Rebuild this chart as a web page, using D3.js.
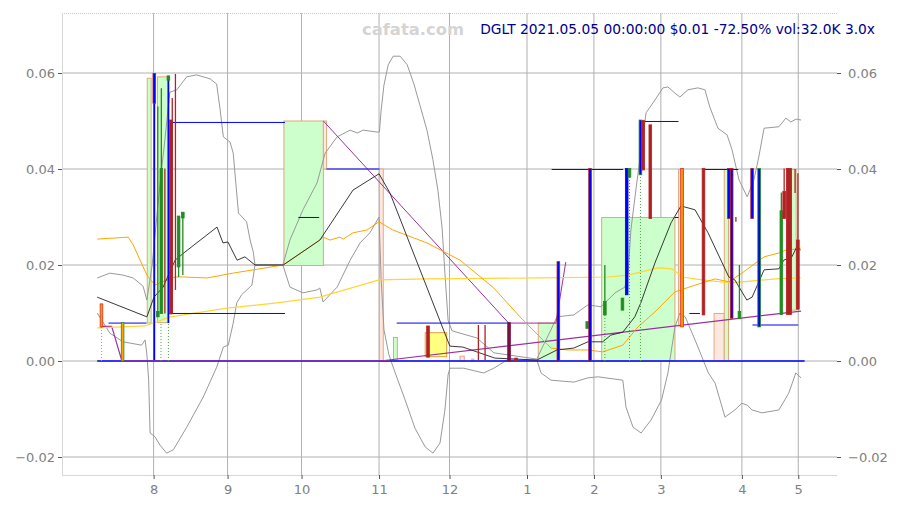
<!DOCTYPE html>
<html><head><meta charset="utf-8">
<script src="https://cdn.jsdelivr.net/npm/d3@7"></script>
<style>
body{margin:0;background:#fff;}
svg{display:block;font-family:"DejaVu Sans",sans-serif;}
</style></head>
<body><svg id="c" width="898" height="509"></svg>
<script>
// ---------- data (x = trading-session index, y = price in $) ----------
const xTickVals = [16,37,58,80,100,122,141,160,183,199];
const xTickLabels = ["8","9","10","11","12","1","2","3","4","5"];
const yTickVals = [-0.02,0,0.02,0.04,0.06];
const titleText = "DGLT 2021.05.05 00:00:00 $0.01 -72.50% vol:32.0K 3.0x";
const watermark = "cafata.com";

const priceLine = [[0,0.0133],[14.1,0.0092],[16.1,0.0133],[18.7,0.0154],[22.1,0.0210],[24.9,0.0227],[34.0,0.0279],[35.7,0.0246],[37.1,0.0248],[39.7,0.0210],[41.9,0.0217],[44.8,0.0200],[52.8,0.0200],[63.2,0.0252],[72.6,0.0356],[80.0,0.0390],[83.1,0.0350],[100.1,0.0031],[103.8,0.0029],[112.9,0.0006],[124.8,0.0002],[130.5,0.0023],[135.3,0.0027],[139.3,0.0040],[143.5,0.0040],[145.8,0.0054],[149.2,0.0060],[152.6,0.0092],[154.3,0.0121],[158.3,0.0204],[162.9,0.0288],[165.7,0.0323],[169.7,0.0315],[173.4,0.0267],[179.3,0.0175],[181.0,0.0169],[184.4,0.0127],[185.9,0.0133],[189.3,0.0190],[193.5,0.0192],[194.9,0.0210],[197.2,0.0217],[198.6,0.0238],[199.7,0.0231]];

const maFast = [[0,0.0254],[8.8,0.0258],[10.2,0.0242],[14.1,0.0179],[16.4,0.0158],[17.8,0.0163],[22.1,0.0175],[24.4,0.0175],[31.2,0.0173],[38.5,0.0183],[52.8,0.0200],[63.2,0.0252],[64.1,0.0258],[66.1,0.0252],[68.9,0.0258],[69.8,0.0254],[72.6,0.0267],[76.6,0.0273],[80.0,0.0290],[83.9,0.0273],[93.6,0.0246],[103.0,0.0210],[112.6,0.0152],[120.0,0.0092],[128.8,0.0027],[133.6,0.0023],[139.3,0.0023],[143.5,0.0019],[149.2,0.0033],[153.5,0.0071],[158.3,0.0102],[164.0,0.0144],[169.7,0.0158],[175.4,0.0171],[179.3,0.0165],[183.0,0.0183],[189.3,0.0217],[193.5,0.0225],[195.5,0.0231],[198.3,0.0233],[199.7,0.0235]];

const maSlow = [[0,0.0069],[13.6,0.0073],[20.7,0.0092],[36.8,0.0110],[51.0,0.0121],[63.2,0.0133],[80.0,0.0169],[93.6,0.0171],[126.0,0.0173],[145.0,0.0175],[150.7,0.0179],[159.2,0.0194],[163.2,0.0192],[166.0,0.0175],[171.7,0.0169],[179.3,0.0163],[183.0,0.0165],[192.7,0.0171],[199.7,0.0173]];

const bandUpper = [[0,0.0173],[3.6,0.0183],[7.3,0.0179],[10.2,0.0173],[13.0,0.0156],[14.1,0.0127],[15.6,0.0200],[17.0,0.0308],[18.1,0.0388],[19.2,0.0460],[20.6,0.0560],[22.6,0.0565],[25.4,0.0592],[28.2,0.0596],[32.0,0.0588],[33.9,0.0577],[34.9,0.0523],[35.8,0.0467],[37.7,0.0456],[38.6,0.0433],[40.1,0.0308],[42.4,0.0290],[43.4,0.0252],[44.3,0.0227],[44.8,0.0200],[52.7,0.0200],[54.7,0.0252],[58.4,0.0315],[62.4,0.0371],[64.7,0.0433],[68.1,0.0467],[71.8,0.0481],[73.8,0.0475],[75.5,0.0481],[79.4,0.0477],[80.1,0.0477],[80.6,0.0523],[81.4,0.0575],[82.6,0.0617],[84.0,0.0635],[86.0,0.0635],[88.0,0.0617],[89.9,0.0577],[91.6,0.0533],[93.6,0.0481],[95.3,0.0419],[96.7,0.0356],[97.9,0.0277],[98.7,0.0183],[99.6,0.0085],[100.7,0.0063],[103.0,0.0058],[107.8,0.0048],[112.6,0.0017],[124.8,0.0004],[126.0,0.0023],[128.8,0.0065],[130.5,0.0092],[135.3,0.0096],[139.3,0.0117],[143.0,0.0113],[147.0,0.0142],[149.8,0.0154],[150.7,0.0183],[151.5,0.0273],[152.9,0.0356],[154.4,0.0440],[155.8,0.0517],[157.8,0.0538],[160.6,0.0569],[162.0,0.0571],[164.0,0.0558],[165.4,0.0550],[167.7,0.0565],[170.5,0.0569],[172.5,0.0565],[173.9,0.0529],[176.2,0.0485],[178.8,0.0471],[180.2,0.0440],[182.2,0.0377],[184.5,0.0342],[186.4,0.0377],[187.8,0.0425],[189.3,0.0485],[193.5,0.0488],[195.5,0.0506],[196.9,0.0498],[198.4,0.0504],[199.8,0.0502]];

const bandLower = [[0,0.0100],[3.6,0.0058],[7.3,0.0040],[12.6,0.0033],[13.6,0.0044],[14.1,0.0013],[14.6,-0.0040],[15.0,-0.0150],[16.4,-0.0158],[17.8,-0.0175],[19.7,-0.0192],[21.6,-0.0185],[25.4,-0.0138],[30.1,-0.0075],[33.9,-0.0013],[35.8,0.0029],[37.2,0.0033],[38.6,0.0079],[39.6,0.0121],[41.0,0.0138],[43.9,0.0158],[44.8,0.0200],[52.7,0.0200],[54.7,0.0154],[58.4,0.0142],[62.4,0.0148],[63.2,0.0152],[64.1,0.0123],[68.1,0.0154],[71.8,0.0210],[74.6,0.0246],[77.4,0.0267],[80.0,0.0300],[80.6,0.0169],[81.4,0.0065],[82.8,0.0013],[84.5,-0.0023],[87.4,-0.0081],[90.2,-0.0140],[93.1,-0.0179],[95.3,-0.0192],[97.3,-0.0171],[98.7,-0.0102],[99.6,-0.0029],[100.1,-0.0015],[104.0,-0.0015],[109.7,-0.0025],[112.6,-0.0015],[116.3,0.0002],[124.8,0.0002],[126.0,-0.0025],[128.8,-0.0040],[135.3,-0.0044],[139.3,-0.0035],[142.2,-0.0033],[149.2,-0.0040],[150.1,-0.0096],[152.1,-0.0138],[154.4,-0.0150],[157.2,-0.0123],[160.2,-0.0081],[162.0,-0.0025],[164.0,0.0071],[165.4,0.0100],[166.9,0.0092],[169.7,0.0044],[173.5,-0.0025],[175.4,-0.0046],[178.2,-0.0117],[181.0,-0.0102],[183.0,-0.0088],[184.5,-0.0092],[185.9,-0.0102],[188.7,-0.0108],[193.5,-0.0102],[196.3,-0.0067],[198.3,-0.0025],[199.8,-0.0035]];

const trendA = [[1.1,0.0072],[4.1,0.0072],[7.0,0.0],[80.3,0.0],[199.8,0.0104]];
const trendB = [[64.2,0.0500],[116.8,0.0079],[130.2,0.0079],[133.0,0.0206]];
const zeroLine = [[0,0],[200.8,0]];

// boxes: [from, to, low, high, kind]
const boxes = [[14.2,15.3,0.0079,0.0589,"g"],[17.1,20.2,0.0080,0.0592,"g"],[53.0,64.2,0.0199,0.0500,"g"],[64.2,65.1,0.0400,0.0500,"p"],[80.1,81.2,0,0.0400,"p"],[84.1,85.2,0,0.0049,"g"],[93.1,99.2,0.0009,0.0059,"y"],[103.0,104.2,0,0.0010,"p"],[106.3,106.9,0,0.0004,"p"],[125.2,131.2,0,0.0079,"g"],[143.2,164.0,0,0.0299,"g"],[165.0,166.4,0.0073,0.0399,"p"],[175.1,178.0,0,0.0099,"p"],[178.0,179.2,0,0.0399,"g"],[197.1,198.4,0.0106,0.0399,"g"]];

// horizontal levels: [from, to, price]
const levels = [[3.2,14.0,0.0079],[20.7,53.3,0.0497],[21.1,53.3,0.0099],[57.1,63.0,0.0299],[65.1,80.1,0.0400],[85.0,116.7,0.0079],[129.0,149.3,0.0399],[155.5,165.0,0.0499],[164.0,165.0,0.0299],[168.1,171.1,0.0099],[172.0,182.0,0.0399],[186.0,199.0,0.0075]];

// wicks: [x, low, high, colour kind]
const wicks = [[16.2,0.0002,0.0599,"b"],[17.2,0.0099,0.0530,"g"],[18.2,0.0099,0.0568,"g"],[19.2,0.0099,0.0401,"r"],[20.2,0.0079,0.0592,"b"],[21.3,0.0098,0.0548,"r"],[22.2,0.0148,0.0598,"r"],[23.1,0.0175,0.0302,"g"],[24.3,0.0179,0.0310,"g"],[108.2,0.0002,0.0075,"r"],[110.1,0.0002,0.0075,"r"],[144.1,0.0096,0.0200,"g"],[181.3,0.0290,0.0300,"r"],[182.3,0.0088,0.0200,"g"],[194.2,0.0097,0.0351,"g"],[195.0,0.0297,0.0401,"r"],[198.1,0.0350,0.0400,"r"],[198.9,0.0108,0.0391,"r"]];

// bodies: [x, low, high, kind]
const bodies = [[1.2,0.0071,0.0119,"o"],[7.2,0,0.0080,"og"],[16.2,0.0537,0.0599,"br"],[17.2,0.0092,0.0103,"g"],[18.2,0.0099,0.0401,"g"],[20.2,0.0585,0.0594,"g"],[20.9,0.0098,0.0502,"r"],[23.1,0.0196,0.0302,"g"],[24.3,0.0298,0.0310,"g"],[93.9,0.0008,0.0073,"r"],[116.9,0,0.0080,"m"],[118.9,0,0.0006,"r"],[130.9,0,0.0207,"br"],[139.1,0.0068,0.0082,"g"],[139.9,0,0.0401,"br"],[144.1,0.0096,0.0124,"g"],[149.1,0.0106,0.0131,"g"],[150.3,0.0138,0.0401,"b"],[151.1,0.0383,0.0401,"g"],[154.2,0.0388,0.0502,"bg"],[155.0,0.0398,0.0501,"r"],[157.0,0.0297,0.0492,"r"],[166.0,0.0071,0.0401,"o"],[172.1,0.0096,0.0401,"r"],[179.3,0.0297,0.0401,"br"],[180.1,0.0089,0.0401,"br"],[182.3,0.0088,0.0103,"g"],[185.9,0.0297,0.0401,"br"],[187.9,0.0071,0.0401,"bg"],[194.2,0.0097,0.0313,"g"],[195.0,0.0297,0.0353,"r"],[196.0,0.0097,0.0401,"r"],[196.7,0.0097,0.0401,"r"],[198.9,0.0108,0.0252,"r"]];

// dotted drop lines: [x, low, high, kind]
const drops = [[1.2,0,0.0071,"r"],[18.1,0,0.0079,"g"],[20.2,0,0.0079,"g"],[144.1,0,0.0096,"g"],[151.1,0,0.0383,"g"],[154.2,0,0.0388,"g"]];

// ---------- drawing ----------
const svg = d3.select("#c");
const L=62, R=837, T=13, B=475;
const x = d3.scaleLinear().domain([-10,210]).range([L,R]);
const y = d3.scaleLinear().domain([-0.02375,0.0725]).range([B,T]);

const boxFill = {g:"#ccffcc", p:"#fde8e0", y:"#ffff80"};
const boxStroke = {g:"#e0a878", p:"#e8a880", y:"#e0a040"};
const bodyFill = {r:"#b22222", g:"#228b22", br:"#0000ff", bg:"#0000ff", b:"#0000ff", o:"#ff9900", og:"#ffa500", m:"#7a1040"};
const bodyStroke = {r:"#b22222", g:"#228b22", br:"#b22222", bg:"#228b22", b:"#0000ff", o:"#d83020", og:"#228b22", m:"#7a1040"};
const wickCol = {r:"#b22222", g:"#228b22", b:"#0000ff"};
const dropCol = {r:"#e08080", g:"#44aa44"};

// grid
const grid = svg.append("g");
grid.selectAll("line.v").data(xTickVals).join("line").attr("class","v")
  .attr("x1",d=>x(d)).attr("x2",d=>x(d)).attr("y1",T).attr("y2",B)
  .attr("stroke","#b0b0b0").attr("stroke-width",1);
grid.selectAll("line.h").data(yTickVals).join("line").attr("class","h")
  .attr("x1",L).attr("x2",R).attr("y1",d=>y(d)).attr("y2",d=>y(d))
  .attr("stroke","#b0b0b0").attr("stroke-width",1);

// frame
svg.append("line").attr("x1",L).attr("x2",R).attr("y1",T+0.5).attr("y2",T+0.5)
  .attr("stroke","#c8c8c8").attr("stroke-dasharray","1,1");
svg.append("line").attr("x1",L+0.5).attr("x2",L+0.5).attr("y1",T).attr("y2",B)
  .attr("stroke","#d8d8d8");
svg.append("line").attr("x1",L).attr("x2",R).attr("y1",B+0.5).attr("y2",B+0.5)
  .attr("stroke","#d8d8d8");

// axes
const ax = d3.axisBottom(x).tickValues(xTickVals).tickFormat((d,i)=>xTickLabels[i]).tickSize(4).tickPadding(6);
const gx = svg.append("g").attr("transform",`translate(0,${B})`).call(ax);
const ayl = d3.axisLeft(y).tickValues(yTickVals).tickFormat(d3.format(".2f")).tickSize(4).tickPadding(3);
const gyl = svg.append("g").attr("transform",`translate(${L},0)`).call(ayl);
const ayr = d3.axisRight(y).tickValues(yTickVals).tickFormat(d3.format(".2f")).tickSize(4).tickPadding(7);
const gyr = svg.append("g").attr("transform",`translate(${R},0)`).call(ayr);
[gx,gyl,gyr].forEach(g=>{
  g.select(".domain").remove();
  g.selectAll(".tick line").attr("stroke","#555");
  g.selectAll(".tick text").attr("fill","#808080").style("font-size","13px").style("font-family","DejaVu Sans");
});

// boxes
svg.append("g").selectAll("rect").data(boxes).join("rect")
  .attr("x",d=>x(d[0])).attr("width",d=>x(d[1])-x(d[0]))
  .attr("y",d=>y(d[3])).attr("height",d=>y(d[2])-y(d[3]))
  .attr("fill",d=>boxFill[d[4]]).attr("stroke",d=>boxStroke[d[4]]).attr("stroke-width",1);

const line = d3.line().x(d=>x(d[0])).y(d=>y(d[1]));
svg.append("path").datum(bandUpper).attr("d",line).attr("fill","none").attr("stroke","#999").attr("stroke-width",1);
svg.append("path").datum(bandLower).attr("d",line).attr("fill","none").attr("stroke","#999").attr("stroke-width",1);
svg.append("path").datum(zeroLine).attr("d",line).attr("fill","none").attr("stroke","#0000ff").attr("stroke-width",1.6);
svg.append("path").datum(trendA).attr("d",line).attr("fill","none").attr("stroke","#9b30a0").attr("stroke-width",1.2);
svg.append("path").datum(trendB).attr("d",line).attr("fill","none").attr("stroke","#9b30a0").attr("stroke-width",1);
svg.append("path").datum(maSlow).attr("d",line).attr("fill","none").attr("stroke","#ffd633").attr("stroke-width",1.2);
svg.append("path").datum(maFast).attr("d",line).attr("fill","none").attr("stroke","#ffa500").attr("stroke-width",1);
svg.append("path").datum(priceLine).attr("d",line).attr("fill","none").attr("stroke","#222").attr("stroke-width",0.9);

// levels
svg.append("g").selectAll("line").data(levels).join("line")
  .attr("x1",d=>x(d[0])).attr("x2",d=>x(d[1])).attr("y1",d=>y(d[2])).attr("y2",d=>y(d[2]))
  .attr("stroke","#0000ff").attr("stroke-width",1);

// drop lines
svg.append("g").selectAll("line").data(drops).join("line")
  .attr("x1",d=>x(d[0])).attr("x2",d=>x(d[0])).attr("y1",d=>y(d[1])).attr("y2",d=>y(d[2]))
  .attr("stroke",d=>dropCol[d[3]]).attr("stroke-width",1).attr("stroke-dasharray","1,2");

// wicks
svg.append("g").selectAll("line").data(wicks).join("line")
  .attr("x1",d=>x(d[0])).attr("x2",d=>x(d[0])).attr("y1",d=>y(d[1])).attr("y2",d=>y(d[2]))
  .attr("stroke",d=>wickCol[d[3]]).attr("stroke-width",d=>d[3]==="b"?1.8:1.3);

// bodies
const bw = 0.75;
svg.append("g").selectAll("rect").data(bodies).join("rect")
  .attr("x",d=>x(d[0]-bw/2)).attr("width",d=>x(bw)-x(0))
  .attr("y",d=>y(d[2])).attr("height",d=>Math.max(1,y(d[1])-y(d[2])))
  .attr("fill",d=>bodyFill[d[3]]).attr("stroke",d=>bodyStroke[d[3]]).attr("stroke-width",0.8);

// texts
svg.append("text").attr("x",413).attr("y",35).attr("text-anchor","middle")
  .attr("fill","#d4d4d4").style("font-size","16px").style("font-weight","bold")
  .attr("textLength",102).attr("lengthAdjust","spacingAndGlyphs").text(watermark);
svg.append("text").attr("x",875).attr("y",34).attr("text-anchor","end")
  .attr("fill","#00008b").style("font-size","13.8px").text(titleText);
</script></body></html>
